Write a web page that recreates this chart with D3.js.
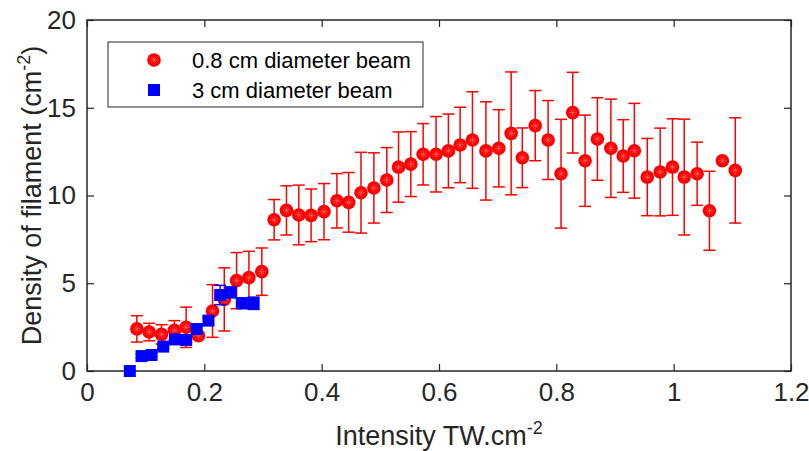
<!DOCTYPE html>
<html>
<head>
<meta charset="utf-8">
<script src="https://cdn.jsdelivr.net/npm/d3@7"></script>
<style>
  body { margin: 0; background: #fff; }
  svg { display: block; font-family: "Liberation Sans", Arial, sans-serif; }
</style>
</head>
<body>
<div id="chart"></div>
<script>
// 0.8 cm diameter beam (red circles)
const smallX = [0.085, 0.106, 0.127, 0.149, 0.169, 0.190, 0.214, 0.234, 0.255, 0.276,
  0.298, 0.319, 0.340, 0.361, 0.382, 0.404, 0.426, 0.446, 0.467, 0.489,
  0.511, 0.531, 0.552, 0.573, 0.595, 0.616, 0.636, 0.657, 0.680, 0.702,
  0.723, 0.742, 0.764, 0.786, 0.808, 0.828, 0.849, 0.870, 0.893, 0.914,
  0.933, 0.955, 0.977, 0.998, 1.018, 1.040, 1.061, 1.083, 1.105]
const smallY = [2.40, 2.22, 2.09, 2.32, 2.49, 2.01, 3.42, 4.08, 5.15, 5.32,
  5.66, 8.62, 9.15, 8.89, 8.87, 9.08, 9.70, 9.61, 10.16, 10.43,
  10.88, 11.62, 11.79, 12.35, 12.35, 12.54, 12.88, 13.16, 12.54, 12.69,
  13.54, 12.15, 13.98, 13.16, 11.24, 14.72, 11.98, 13.22, 12.69, 12.25,
  12.55, 11.05, 11.34, 11.62, 11.05, 11.24, 9.13, 11.98, 11.43]
const smallErr = [0.75, 0.5, 0.55, 0.55, 1.15, 0.2, 1.5, 1.8, 1.6, 1.5,
  1.35, 1.15, 1.4, 1.7, 1.5, 1.6, 1.55, 1.7, 2.3, 2.0,
  1.85, 2.0, 1.85, 1.75, 2.15, 2.1, 2.15, 2.75, 2.8, 2.2,
  3.5, 1.7, 2.0, 2.25, 3.1, 2.3, 2.6, 2.35, 2.8, 2.07,
  2.7, 2.2, 2.5, 2.75, 3.3, 1.8, 2.25, 0, 3.0]

// 3 cm diameter beam (blue squares)
const bigX = [0.073, 0.093, 0.110, 0.130, 0.150, 0.169, 0.187, 0.207, 0.227, 0.245, 0.264, 0.284]
const bigY = [0.0, 0.85, 0.91, 1.39, 1.80, 1.77, 2.39, 2.87, 4.33, 4.48, 3.86, 3.86]
const bigErr = [0, 0.1, 0.1, 0.1, 0.15, 0.15, 0.2, 0.2, 0.55, 0.3, 0.3, 0.35]

const xTicks = [0, 0.2, 0.4, 0.6, 0.8, 1, 1.2]
const yTicks = [0, 5, 10, 15, 20]

const width = 809, height = 451
const margin = {top: 20, right: 18, bottom: 80, left: 87}
const innerW = width - margin.left - margin.right
const innerH = height - margin.top - margin.bottom

const axisColor = '#262626'

let svg = d3.select('#chart').append('svg')
  .attr('width', width)
  .attr('height', height)

let g = svg.append('g')
  .attr('transform', `translate(${margin.left},${margin.top})`)

let x = d3.scaleLinear().domain([0, 1.2]).range([0, innerW])
let y = d3.scaleLinear().domain([0, 20]).range([innerH, 0])

// axes, MATLAB style: inward ticks on all four sides
let xAxis = g.append('g')
  .attr('transform', `translate(0,${innerH})`)
  .call(d3.axisBottom(x).tickValues(xTicks).tickFormat(d3.format('~g'))
    .tickSizeInner(-7).tickSizeOuter(0).tickPadding(12))
let yAxis = g.append('g')
  .call(d3.axisLeft(y).tickValues(yTicks).tickFormat(d3.format('~g'))
    .tickSizeInner(-7).tickSizeOuter(0).tickPadding(11))
let xTop = g.append('g')
  .call(d3.axisTop(x).tickValues(xTicks).tickFormat('').tickSizeInner(-7).tickSizeOuter(0))
let yRight = g.append('g')
  .attr('transform', `translate(${innerW},0)`)
  .call(d3.axisRight(y).tickValues(yTicks).tickFormat('').tickSizeInner(-7).tickSizeOuter(0))

;[xAxis, yAxis, xTop, yRight].forEach(a => {
  a.select('.domain').remove()
  a.selectAll('line').attr('stroke', axisColor).attr('stroke-width', 1.2)
  a.selectAll('text')
    .attr('fill', axisColor)
    .style('font-size', '26px')
    .style('font-family', '"Liberation Sans", Arial, sans-serif')
})

g.append('rect')
  .attr('width', innerW)
  .attr('height', innerH)
  .attr('fill', 'none')
  .attr('stroke', axisColor)
  .attr('stroke-width', 1.5)

// error bars
function errorBars(xs, ys, es, color) {
  let eg = g.append('g').attr('stroke', color).attr('stroke-width', 1.5).attr('fill', 'none')
  xs.forEach((xv, i) => {
    if (!es[i]) return
    let cx = x(xv), top = y(ys[i] + es[i]), bot = y(ys[i] - es[i])
    eg.append('line').attr('x1', cx).attr('x2', cx).attr('y1', top).attr('y2', bot)
    eg.append('line').attr('x1', cx - 6).attr('x2', cx + 6).attr('y1', top).attr('y2', top)
    eg.append('line').attr('x1', cx - 6).attr('x2', cx + 6).attr('y1', bot).attr('y2', bot)
  })
}

function redDot(sel, cx, cy) {
  sel.append('circle').attr('cx', cx).attr('cy', cy).attr('r', 6.8).attr('fill', '#ff0000')
  // faint asterisk inside marker
  for (let k = 0; k < 4; k++) {
    let a = k * Math.PI / 4
    sel.append('line')
      .attr('x1', cx - 4 * Math.cos(a)).attr('y1', cy - 4 * Math.sin(a))
      .attr('x2', cx + 4 * Math.cos(a)).attr('y2', cy + 4 * Math.sin(a))
      .attr('stroke', '#ff7070').attr('stroke-width', 0.6)
  }
}

function blueSquare(sel, cx, cy) {
  sel.append('rect').attr('x', cx - 6).attr('y', cy - 6)
    .attr('width', 12).attr('height', 12).attr('fill', '#0000ff')
}

errorBars(smallX, smallY, smallErr, '#ff0000')
let redG = g.append('g')
smallX.forEach((xv, i) => redDot(redG, x(xv), y(smallY[i])))

errorBars(bigX, bigY, bigErr, '#0000ff')
let blueG = g.append('g')
bigX.forEach((xv, i) => blueSquare(blueG, x(xv), y(bigY[i])))

// legend
let leg = svg.append('g').attr('transform', 'translate(108,42)')
leg.append('rect')
  .attr('width', 315).attr('height', 65)
  .attr('fill', '#fff').attr('stroke', axisColor).attr('stroke-width', 1)
redDot(leg, 46, 18)
blueSquare(leg, 46, 48)
leg.append('text').attr('x', 84).attr('y', 26).text('0.8 cm diameter beam')
  .style('font-size', '22px').attr('fill', '#000')
leg.append('text').attr('x', 84).attr('y', 56).text('3 cm diameter beam')
  .style('font-size', '22px').attr('fill', '#000')

// axis labels
let xl = svg.append('text')
  .attr('x', margin.left + innerW / 2)
  .attr('y', 445)
  .attr('text-anchor', 'middle')
  .attr('fill', axisColor)
  .style('font-size', '27px')
xl.append('tspan').text('Intensity TW.cm')
xl.append('tspan').attr('dy', -11).style('font-size', '18px').text('-2')

let yl = svg.append('text')
  .attr('transform', `translate(41,${margin.top + innerH / 2}) rotate(-90)`)
  .attr('text-anchor', 'middle')
  .attr('fill', axisColor)
  .style('font-size', '27px')
yl.append('tspan').text('Density of filament (cm')
yl.append('tspan').attr('dy', -11).style('font-size', '18px').text('-2')
yl.append('tspan').attr('dy', 11).text(')')
</script>
</body>
</html>
